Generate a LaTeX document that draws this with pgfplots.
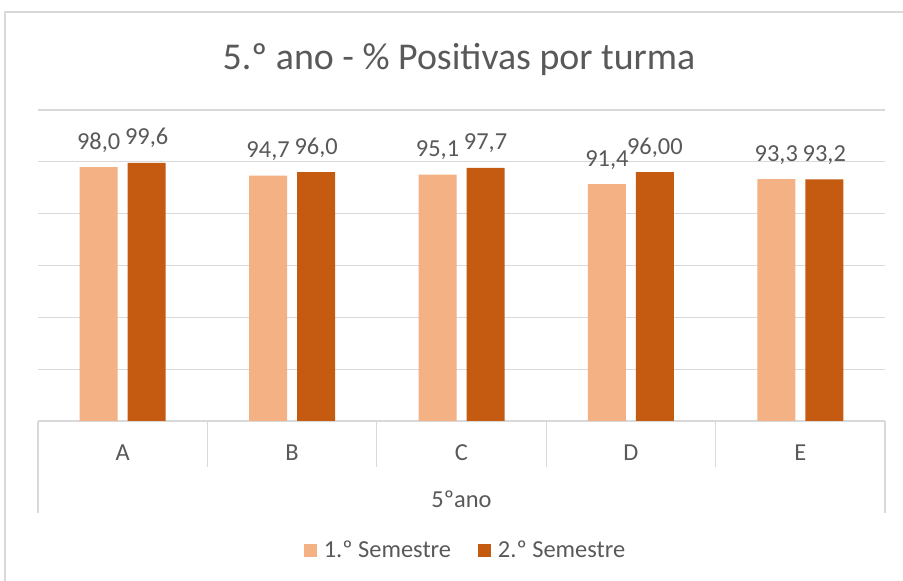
\documentclass[border=0pt]{standalone}
\usepackage{pgfplots}
\pgfplotsset{compat=1.18}
\usepackage{pgfplotstable}
\usepackage{fontspec}
\setmainfont{Carlito}
\definecolor{lightbar}{HTML}{F4B183}
\definecolor{darkbar}{HTML}{C55A11}
\definecolor{txt}{HTML}{595959}
\definecolor{grd}{HTML}{D9D9D9}

\pgfplotstableread{
x y lab
0 98.0 98,0
1 94.7 94,7
2 95.1 95,1
3 91.4 91,4
4 93.3 93,3
}\semone
\pgfplotstableread{
x y lab
0 99.6 99,6
1 96.0 96,0
2 97.7 97,7
3 96.0 96,00
4 93.2 93,2
}\semtwo

\begin{document}
\begin{tikzpicture}
\useasboundingbox (0,0) rectangle (903bp,581bp);
\fill[white] (0,0) rectangle (903bp,581bp);
\draw[grd, line width=1.2bp] (5bp,0) -- (5bp,569bp) -- (910bp,569bp);
\node[anchor=base, font=\fontsize{38}{45}\selectfont, text=txt] at (459bp,511bp) {5.º ano - \% Positivas por turma};
\begin{axis}[
  scale only axis,
  width=847bp, height=311bp,
  at={(38bp,160bp)}, anchor=south west,
  ybar=10bp, bar width=38bp,
  xmin=-0.5, xmax=4.5, ymin=0, ymax=120,
  ytick={0,20,...,120}, yticklabels={},
  ymajorgrids, grid style={grd, line width=1.2bp},
  axis line style={draw=none},
  major tick length=0pt,
  xtick={0,1,2,3,4}, xticklabels={A,B,C,D,E},
  xticklabel style={anchor=center, yshift=-32bp, font=\fontsize{24.5}{29}\selectfont, text=txt},
  nodes near coords={\pgfplotspointmeta},
  point meta=explicit symbolic,
  every node near coord/.append style={anchor=base, yshift=18bp, font=\fontsize{24.5}{29}\selectfont, text=txt},
  legend columns=2,
  legend style={at={(0.5,-0.4148)}, anchor=center, xshift=4bp, draw=none, fill=none,
    font=\fontsize{24.5}{29}\selectfont, text=txt,
    /tikz/every odd column/.append style={column sep=5bp},
    /tikz/every even column/.append style={column sep=25bp}},
  clip=false,
]
\addplot[fill=lightbar, draw=none, legend image code/.code={\fill[lightbar] (0bp,-6.5bp) rectangle (13bp,6.5bp);}] table[x=x, y=y, meta=lab] {\semone};
\addplot[fill=darkbar, draw=none, legend image code/.code={\fill[darkbar] (0bp,-6.5bp) rectangle (13bp,6.5bp);}] table[x=x, y=y, meta=lab] {\semtwo};
\legend{1.º Semestre, 2.º Semestre}
\draw[grd, line width=1.2bp] ([yshift=-92bp]axis cs:-0.5,0) -- (axis cs:-0.5,0);
\draw[grd, line width=1.2bp] ([yshift=-92bp]axis cs:4.5,0) -- (axis cs:4.5,0);
\draw[grd, line width=1.2bp] ([yshift=-46bp]axis cs:0.5,0) -- (axis cs:0.5,0);
\draw[grd, line width=1.2bp] ([yshift=-46bp]axis cs:1.5,0) -- (axis cs:1.5,0);
\draw[grd, line width=1.2bp] ([yshift=-46bp]axis cs:2.5,0) -- (axis cs:2.5,0);
\draw[grd, line width=1.2bp] ([yshift=-46bp]axis cs:3.5,0) -- (axis cs:3.5,0);
\node[font=\fontsize{24.5}{29}\selectfont, text=txt] at ([yshift=-78bp]axis description cs:0.5,0) {5ºano};
\end{axis}
\end{tikzpicture}
\end{document}
